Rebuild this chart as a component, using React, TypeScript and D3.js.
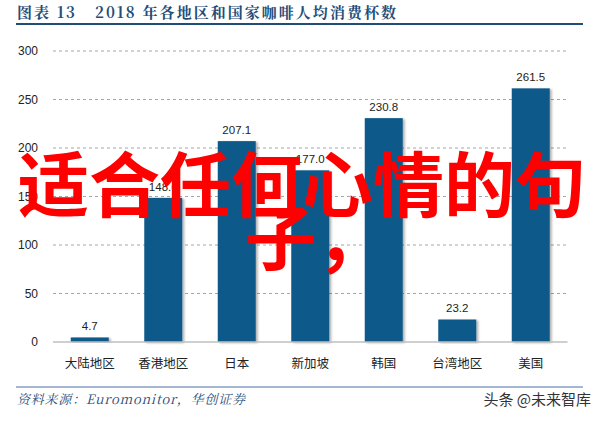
import React from "react";
import * as d3 from "d3";

const categories = ["大陆地区", "香港地区", "日本", "新加坡", "韩国", "台湾地区", "美国"];
const values = [4.7, 148.6, 207.1, 177.0, 230.8, 23.2, 261.5];
const valueLabels = ["4.7", "148.6", "207.1", "177.0", "230.8", "23.2", "261.5"];
const yTicks = [0, 50, 100, 150, 200, 250, 300];

const W = 603;
const H = 423;
const left = 53;
const right = 567.5;
const top = 51;
const bottom = 342;

export default function App() {
  const x = d3.scaleBand<string>().domain(categories).range([left, right]).paddingInner(0.483).paddingOuter(0.2415);
  const y = d3.scaleLinear().domain([0, 300]).range([bottom, top]);
  const sans = "Liberation Sans, Arial, sans-serif";
  const serif = "Noto Serif CJK SC, Liberation Serif, serif";
  const cjk = "Noto Sans CJK SC, sans-serif";
  return (
    <svg width={W} height={H} style={{ position: "absolute", left: 0, top: 0, background: "#fff" }}>
      <defs>
        <filter id="sh" x="-20%" y="-5%" width="150%" height="110%">
          <feDropShadow dx="2" dy="1" stdDeviation="1.2" floodColor="#000" floodOpacity="0.3" />
        </filter>
      </defs>
      <rect width={W} height={H} fill="#fff" />
      <text x={17} y={18} fontFamily={serif} fontWeight="bold" fontSize={15} fill="#1F4E79" textLength={58} lengthAdjust="spacing">
        图表 13
      </text>
      <text x={95} y={18} fontFamily={serif} fontWeight="bold" fontSize={15} fill="#1F4E79" textLength={301} lengthAdjust="spacing">
        2018 年各地区和国家咖啡人均消费杯数
      </text>
      <line x1={16} x2={583} y1={24} y2={24} stroke="#1F4E79" strokeWidth={2.2} />
      {yTicks.map((t) => (
        <g key={t}>
          {t > 0 && (
            <line x1={left} x2={568} y1={y(t)} y2={y(t)} stroke="#a6a6a6" strokeDasharray="3,3" strokeWidth={1} />
          )}
          <text x={38} y={y(t) + 4} textAnchor="end" fontFamily={sans} fontSize={12} fill="#222">
            {t}
          </text>
        </g>
      ))}
      {categories.map((c, i) => (
        <g key={c}>
          <rect x={x(c)} y={y(values[i])} width={x.bandwidth()} height={bottom - y(values[i])} fill="#0E5A8A" filter="url(#sh)" />
          <text x={(x(c) as number) + x.bandwidth() / 2} y={y(values[i]) - 7} textAnchor="middle" fontFamily={sans} fontSize={11.5} fill="#222">
            {valueLabels[i]}
          </text>
          <text x={(x(c) as number) + x.bandwidth() / 2} y={367.5} textAnchor="middle" fontFamily={cjk} fontSize={12.5} fill="#222">
            {c}
          </text>
        </g>
      ))}
      <line x1={left} x2={right} y1={bottom} y2={bottom} stroke="#bfbfbf" strokeWidth={1.5} />
      <line x1={16} x2={583} y1={387} y2={387} stroke="#4A6FA5" strokeWidth={1} />
      <text x={17} y={404} fontFamily={serif} fontStyle="italic" fontSize={13} fill="#1F4E79" textLength={228} lengthAdjust="spacing">
        资料来源：Euromonitor，华创证券
      </text>
      <text x={591} y={405} textAnchor="end" fontFamily={cjk} fontSize={15} fill="#333">
        头条 @未来智库
      </text>
      <text x={302} y={211} textAnchor="middle" fontFamily={cjk} fontWeight="bold" fontSize={71} fill="#FF0000">
        适合任何心情的句
      </text>
      <text x={245} y={264} fontFamily={cjk} fontWeight="bold" fontSize={71} fill="#FF0000">
        子，
      </text>
    </svg>
  );
}
